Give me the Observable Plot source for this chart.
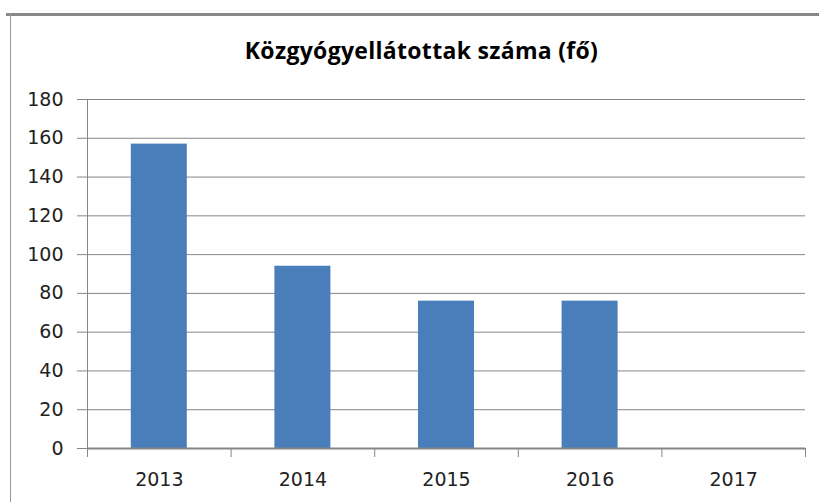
<!DOCTYPE html>
<html>
<head>
<meta charset="utf-8">
<script src="https://cdn.jsdelivr.net/npm/d3@7"></script>
<script src="https://cdn.jsdelivr.net/npm/@observablehq/plot@0.6"></script>
<style>
  html, body { margin: 0; padding: 0; background: #fff; }
  body { position: relative; width: 819px; height: 502px; overflow: hidden; }
  #topline { position: absolute; left: 6px; right: 0; top: 13px; height: 3px; background: #888; }
  #leftline { position: absolute; left: 10px; top: 13px; bottom: 0; width: 1px; background: #999; }
  #title { position: relative; height: 80px; width: 819px; }
  #title div { position: absolute; left: 0; width: 843px; top: 39px; line-height: 22px; text-align: center;
    font-family: "Open Sans", sans-serif; font-weight: 700; font-size: 23px; color: #000; letter-spacing: 0.3px; }
  svg { display: block; }
</style>
</head>
<body>
<div id="topline"></div>
<div id="leftline"></div>
<div id="title"><div>Közgyógyellátottak száma (fő)</div></div>
<div id="chart"></div>
<script>
const years = [2013, 2014, 2015, 2016, 2017];
const values = [157, 94, 76, 76, 0];
const yTicks = [0, 20, 40, 60, 80, 100, 120, 140, 160, 180];
const data = years.map((year, i) => ({year, value: values[i]}));
const boundaries = [...years.map(y => y - 0.5), years[years.length - 1] + 0.5];
const barHalf = 0.195;
const grid = "#868686";

const chart = Plot.plot({
  width: 819,
  height: 422,
  marginLeft: 87,
  marginRight: 14,
  marginTop: 19,
  marginBottom: 54,
  style: {fontFamily: "DejaVu Sans", fontSize: "19px", color: "#222", background: "transparent"},
  x: {type: "linear", domain: [boundaries[0], boundaries[boundaries.length - 1]]},
  y: {domain: [0, 180]},
  marks: [
    Plot.ruleY(yTicks.filter(d => d > 0), {y: d => d, stroke: grid, strokeWidth: 1}),
    Plot.ruleX([boundaries[0]], {x: d => d, y1: 0, y2: 180, stroke: grid, strokeWidth: 1}),
    Plot.rectY(data, {x1: d => d.year - barHalf, x2: d => d.year + barHalf, y1: 0, y2: "value", fill: "#4a7ebb"}),
    Plot.ruleY([0], {y: d => d, stroke: grid, strokeWidth: 2}),
    Plot.axisY({ticks: yTicks, tickSize: 10, tickPadding: 14, tickFormat: d => String(d), stroke: grid, fill: "#222", label: null}),
    Plot.axisX({ticks: boundaries, tickSize: 9, tickFormat: () => "", stroke: grid, label: null}),
    Plot.axisX({ticks: years, tickSize: 0, tickPadding: 24, tickFormat: d => String(d), fill: "#222", label: null})
  ]
});
document.getElementById("chart").appendChild(chart);
</script>
</body>
</html>
